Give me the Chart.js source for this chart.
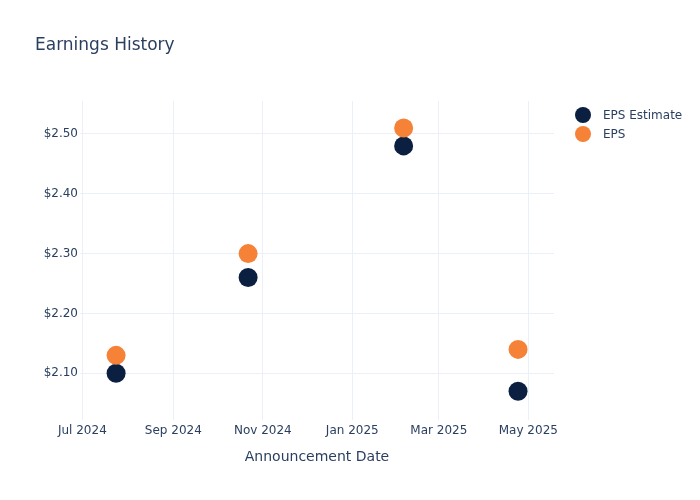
<!DOCTYPE html>
<html>
<head>
<meta charset="utf-8">
<script src="https://cdn.jsdelivr.net/npm/chart.js@4.4.1/dist/chart.umd.min.js"></script>
<style>
  html, body { margin: 0; padding: 0; background: #fff; }
  #wrap { width: 700px; height: 500px; position: relative; }
</style>
</head>
<body>
<div id="wrap"><canvas id="myChart" width="700" height="500"></canvas></div>
<script>
// data
var announceDates = [
  Date.UTC(2024, 6, 24),
  Date.UTC(2024, 9, 22),
  Date.UTC(2025, 1, 5),
  Date.UTC(2025, 3, 24)
];
var epsEstimate = [2.10, 2.26, 2.48, 2.07];
var epsActual = [2.13, 2.30, 2.51, 2.14];
var seriesNames = ["EPS Estimate", "EPS"];
var seriesColors = ["#0b1f41", "#f58237"];

var xTickDates = [
  Date.UTC(2024, 6, 1),
  Date.UTC(2024, 8, 1),
  Date.UTC(2024, 10, 1),
  Date.UTC(2025, 0, 1),
  Date.UTC(2025, 2, 1),
  Date.UTC(2025, 4, 1)
];
var yTickValues = [2.10, 2.20, 2.30, 2.40, 2.50];
var DAY = 86400000;
var xMin = Date.UTC(2024, 6, 1) - 1.6 * DAY;
var xMax = Date.UTC(2025, 4, 1) + 17.5 * DAY;
var yMin = 2.022;
var yMax = 2.555;

var monthNames = ["Jan", "Feb", "Mar", "Apr", "May", "Jun", "Jul", "Aug", "Sep", "Oct", "Nov", "Dec"];
var textColor = "#2a3f5f";
var gridColor = "#ebf0f8";
var fontFamily = "'DejaVu Sans', sans-serif";

function toPoints(values) {
  return values.map(function (v, i) {
    return { x: announceDates[i], y: v };
  });
}

// title + legend drawn on the canvas
var extrasPlugin = {
  id: "extras",
  afterDraw: function (chart) {
    var ctx = chart.ctx;
    ctx.save();
    ctx.fillStyle = textColor;
    ctx.font = "17px " + fontFamily;
    ctx.textAlign = "left";
    ctx.textBaseline = "middle";
    ctx.fillText("Earnings History", 35, 46);

    ctx.font = "12px " + fontFamily;
    seriesNames.forEach(function (name, i) {
      var y = 115 + i * 19;
      ctx.beginPath();
      ctx.arc(583, y, 8, 0, Math.PI * 2);
      ctx.fillStyle = seriesColors[i];
      ctx.fill();
      ctx.fillStyle = textColor;
      ctx.fillText(name, 603, y + 1);
    });
    ctx.restore();
  }
};

var ctx = document.getElementById("myChart").getContext("2d");
var myChart = new Chart(ctx, {
  type: "scatter",
  data: {
    datasets: [
      {
        label: seriesNames[0],
        data: toPoints(epsEstimate),
        backgroundColor: seriesColors[0],
        borderWidth: 0,
        pointRadius: 9.5,
        pointHoverRadius: 9.5,
        order: 1
      },
      {
        label: seriesNames[1],
        data: toPoints(epsActual),
        backgroundColor: seriesColors[1],
        borderWidth: 0,
        pointRadius: 9.5,
        pointHoverRadius: 9.5,
        order: 0
      }
    ]
  },
  options: {
    responsive: false,
    animation: false,
    layout: { padding: { top: 101, right: 146, left: 0, bottom: 0 } },
    plugins: {
      legend: { display: false },
      tooltip: { enabled: false }
    },
    scales: {
      x: {
        type: "linear",
        min: xMin,
        max: xMax,
        afterBuildTicks: function (scale) {
          scale.ticks = xTickDates.map(function (v) { return { value: v }; });
        },
        afterFit: function (scale) { scale.height = 80; },
        grid: { color: gridColor, drawTicks: false },
        border: { display: false },
        ticks: {
          color: textColor,
          font: { family: fontFamily, size: 12 },
          padding: 4,
          maxRotation: 0,
          autoSkip: false,
          callback: function (value) {
            var d = new Date(value);
            return monthNames[d.getUTCMonth()] + " " + d.getUTCFullYear();
          }
        },
        title: {
          display: true,
          text: "Announcement Date",
          color: textColor,
          font: { family: fontFamily, size: 14 },
          padding: { top: 8, bottom: 34 }
        }
      },
      y: {
        min: yMin,
        max: yMax,
        afterBuildTicks: function (scale) {
          scale.ticks = yTickValues.map(function (v) { return { value: v }; });
        },
        afterFit: function (scale) { scale.width = 80; },
        grid: { color: gridColor, drawTicks: false },
        border: { display: false },
        ticks: {
          color: textColor,
          font: { family: fontFamily, size: 12 },
          padding: 2,
          callback: function (value) {
            return "$" + Number(value).toFixed(2);
          }
        }
      }
    }
  },
  plugins: [extrasPlugin]
});
</script>
</body>
</html>
